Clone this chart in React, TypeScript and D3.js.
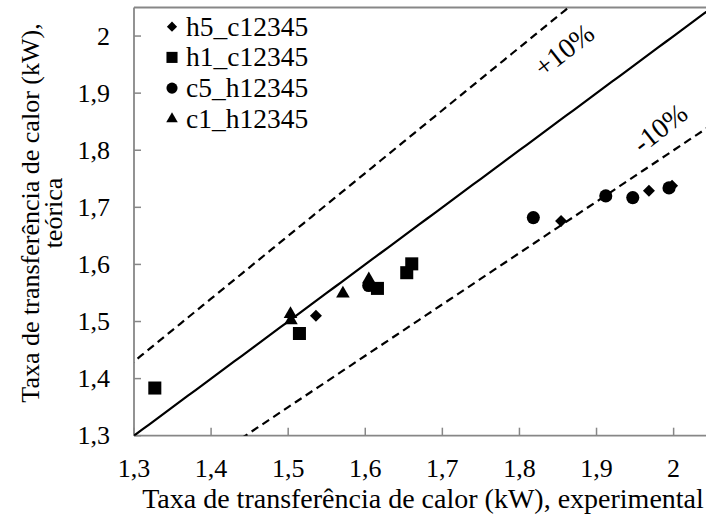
import React from "react";
import * as d3 from "d3";

const xTicks = [1.3, 1.4, 1.5, 1.6, 1.7, 1.8, 1.9, 2.0];
const yTicks = [1.3, 1.4, 1.5, 1.6, 1.7, 1.8, 1.9, 2.0];

const h5_c12345: [number, number][] = [
  [1.536, 1.51],
  [1.854, 1.676],
  [1.968, 1.729],
  [1.998, 1.738],
];
const h1_c12345: [number, number][] = [
  [1.327, 1.3835],
  [1.5146, 1.479],
  [1.6158, 1.558],
  [1.6538, 1.5855],
  [1.6603, 1.601],
];
const c5_h12345: [number, number][] = [
  [1.6045, 1.563],
  [1.818, 1.682],
  [1.912, 1.72],
  [1.947, 1.717],
  [1.994, 1.734],
];
const c1_h12345: [number, number][] = [
  [1.503, 1.513],
  [1.5036, 1.502],
  [1.571, 1.549],
  [1.6046, 1.574],
];

const seriesNames = ["h5_c12345", "h1_c12345", "c5_h12345", "c1_h12345"];

const W = 706;
const H = 516;
const left = 134;
const right = 706;
const top = 7.5;
const bottom = 435.7;

const x = d3.scaleLinear().domain([1.3, 2.042]).range([left, right]);
const y = d3.scaleLinear().domain([1.3, 2.05]).range([bottom, top]);

const font = "Liberation Serif";

function markerPath(kind: string): { d: string; rot: number } {
  if (kind === "diamond") return { d: d3.symbol(d3.symbolSquare, 72)() || "", rot: 45 };
  if (kind === "square") return { d: d3.symbol(d3.symbolSquare, 170)() || "", rot: 0 };
  if (kind === "circle") return { d: d3.symbol(d3.symbolCircle, 135)() || "", rot: 0 };
  return { d: d3.symbol(d3.symbolTriangle, 80)() || "", rot: 0 };
}

const kinds = ["diamond", "square", "circle", "triangle"];
const allSeries = [h5_c12345, h1_c12345, c5_h12345, c1_h12345];

export default function App() {
  const lineGen = (k: number) => {
    const xs = d3.range(1.2, 2.1, 0.01);
    return d3.line<number>().x((v) => x(v)).y((v) => y(k * v))(xs) || "";
  };
  return (
    <svg width={W} height={H} style={{ position: "absolute", left: 0, top: 0, background: "#fff" }}>
      <defs>
        <clipPath id="plot">
          <rect x={left} y={top} width={right - left} height={bottom - top} />
        </clipPath>
      </defs>
      <line x1={left} x2={right} y1={top} y2={top} stroke="#878787" strokeWidth={1.8} />
      <line x1={left} x2={left} y1={top} y2={bottom} stroke="#878787" strokeWidth={1.8} />
      <line x1={left} x2={right} y1={bottom} y2={bottom} stroke="#878787" strokeWidth={1.8} />
      {xTicks.map((t) => (
        <g key={"xt" + t}>
          <line x1={x(t)} x2={x(t)} y1={bottom} y2={bottom - 8} stroke="#878787" strokeWidth={1.5} />
          <text x={x(t)} y={477} textAnchor="middle" fontFamily={font} fontSize={26} fill="#000">
            {String(t).replace(".", ",")}
          </text>
        </g>
      ))}
      {yTicks.map((t) => (
        <g key={"yt" + t}>
          <line x1={left} x2={left + 7} y1={y(t)} y2={y(t)} stroke="#878787" strokeWidth={1.5} />
          <text x={110} y={y(t) + 8.5} textAnchor="end" fontFamily={font} fontSize={26} fill="#000">
            {String(t).replace(".", ",")}
          </text>
        </g>
      ))}
      <g clipPath="url(#plot)">
        <path d={lineGen(1)} fill="none" stroke="#000" strokeWidth={2.2} />
        <path d={lineGen(1.1)} fill="none" stroke="#000" strokeWidth={2.2} strokeDasharray="8,5" />
        <path d={lineGen(0.9)} fill="none" stroke="#000" strokeWidth={2.2} strokeDasharray="8,5" />
      </g>
      <text transform="translate(564,50) rotate(-38)" textAnchor="middle" dominantBaseline="central" fontFamily={font} fontSize={28}>
        +10%
      </text>
      <text transform="translate(660,128) rotate(-38)" textAnchor="middle" dominantBaseline="central" fontFamily={font} fontSize={28}>
        -10%
      </text>
      {allSeries.map((s, i) => {
        const m = markerPath(kinds[i]);
        return (
          <g key={"s" + i}>
            {s.map((p, j) => (
              <path key={j} d={m.d} transform={`translate(${x(p[0])},${y(p[1])}) rotate(${m.rot})`} fill="#000" />
            ))}
          </g>
        );
      })}
      {seriesNames.map((n, i) => {
        const m = markerPath(kinds[i]);
        const cy = 26.7 + i * 30.7;
        return (
          <g key={"l" + i}>
            <path d={m.d} transform={`translate(172,${cy}) rotate(${m.rot}) scale(0.85)`} fill="#000" />
            <text x={186} y={cy + 9} fontFamily={font} fontSize={27.5}>
              {n}
            </text>
          </g>
        );
      })}
      <text x={423} y={508} textAnchor="middle" fontFamily={font} fontSize={28}>
        Taxa de transferência de calor (kW), experimental
      </text>
      <text transform="translate(39,213) rotate(-90)" textAnchor="middle" fontFamily={font} fontSize={26}>
        Taxa de transferência de calor (kW),
      </text>
      <text transform="translate(62,213) rotate(-90)" textAnchor="middle" fontFamily={font} fontSize={26}>
        teórica
      </text>
    </svg>
  );
}
